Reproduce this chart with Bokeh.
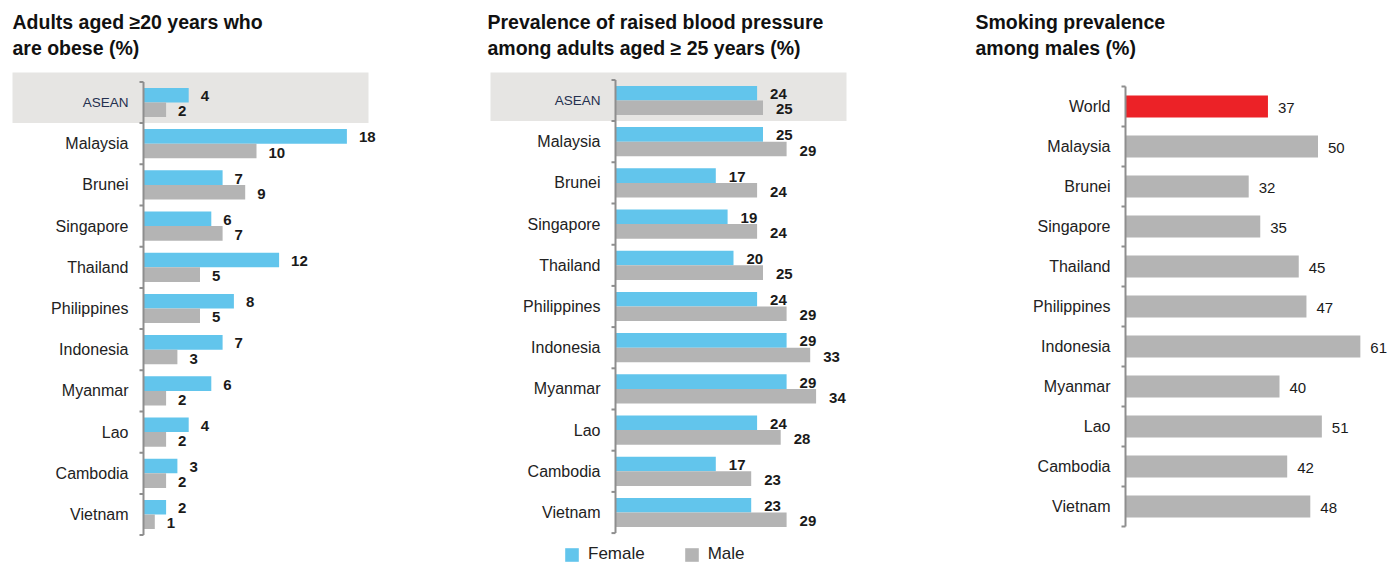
from bokeh.plotting import figure
from bokeh.layouts import row
from bokeh.models import Range1d, ColumnDataSource, Legend, LegendItem
from bokeh.core.properties import value
from bokeh.embed import file_html
from bokeh.resources import INLINE

# ---------------- data ----------------
countries = ["ASEAN", "Malaysia", "Brunei", "Singapore", "Thailand", "Philippines",
             "Indonesia", "Myanmar", "Lao", "Cambodia", "Vietnam"]
obese_female = [4, 18, 7, 6, 12, 8, 7, 6, 4, 3, 2]
obese_male = [2, 10, 9, 7, 5, 5, 3, 2, 2, 2, 1]
bp_female = [24, 25, 17, 19, 20, 24, 29, 29, 24, 17, 23]
bp_male = [25, 29, 24, 24, 25, 29, 33, 34, 28, 23, 29]
smoke_labels = ["World", "Malaysia", "Brunei", "Singapore", "Thailand", "Philippines",
                "Indonesia", "Myanmar", "Lao", "Cambodia", "Vietnam"]
smoke_male = [37, 50, 32, 35, 45, 47, 61, 40, 51, 42, 48]

titles = ["Adults aged \u226520 years who\nare obese (%)",
          "Prevalence of raised blood pressure\namong adults aged \u2265 25 years (%)",
          "Smoking prevalence\namong males (%)"]

# ---------------- style ----------------
H = 562
FONT = "Liberation Sans"
BLUE = "#62c5ec"
GREY = "#b4b4b4"
RED = "#ec2227"
BAND = "#e6e5e3"
AXIS = "#8e8e8e"
TXT = "#1a1a1a"


def make_panel(width, axis_px, ppu, row0_px, row_px):
    x0 = -axis_px / ppu
    x1 = x0 + width / ppu
    y_top = -row0_px / row_px
    y_bot = (H - row0_px) / row_px
    p = figure(width=width, height=H, x_range=Range1d(x0, x1),
               y_range=Range1d(y_bot, y_top), output_backend="svg",
               toolbar_location=None, x_axis_location=None, y_axis_location=None,
               min_border=0, outline_line_color=None)
    p.grid.visible = False
    p.background_fill_color = "white"
    p.border_fill_color = "white"

    def px2x(px):
        return x0 + px / ppu

    def px2y(py):
        return (py - row0_px) / row_px

    return p, px2x, px2y, ppu


def draw_axis(p, ppu, n):
    tick = 4.0 / ppu
    p.segment(x0=[0], y0=[-0.5], x1=[0], y1=[n - 0.5], line_color=AXIS, line_width=2)
    ys = [i - 0.5 for i in range(n + 1)]
    p.segment(x0=[0] * len(ys), y0=ys, x1=[-tick] * len(ys), y1=ys,
              line_color=AXIS, line_width=2)


def add_title(p, px2x, px2y, text, left_px):
    p.text(x=[px2x(left_px)], y=[px2y(10)], text=[text], text_font=value(FONT),
           text_font_size="19.5px", text_font_style="bold", text_color="#111111",
           text_baseline="top", text_align="left", text_line_height=1.2)


def add_cats(p, labels, first_special=False):
    n = len(labels)
    ys = list(range(n))
    if first_special:
        p.text(x=[0], y=[0], text=[labels[0]], x_offset=-15, text_font=value(FONT),
               text_font_size="13.5px", text_color="#24304f", text_align="right",
               text_baseline="middle")
        p.text(x=[0] * (n - 1), y=ys[1:], text=labels[1:], x_offset=-15,
               text_font=value(FONT), text_font_size="16px", text_color="#222222",
               text_align="right", text_baseline="middle")
    else:
        p.text(x=[0] * n, y=ys, text=labels, x_offset=-15,
               text_font=value(FONT), text_font_size="16px", text_color="#222222",
               text_align="right", text_baseline="middle")


def paired_panel(width, axis_px, ppu, row0_px, row_px, female, male, title,
                 band_px, gap):
    p, px2x, px2y, ppu = make_panel(width, axis_px, ppu, row0_px, row_px)
    n = len(countries)
    # highlight band for ASEAN
    p.quad(left=[px2x(band_px[0])], right=[px2x(band_px[1])], top=[px2y(72)],
           bottom=[0.5], fill_color=BAND, line_color=None)
    bh = 14.6 / row_px
    yf = [i - bh / 2 for i in range(n)]
    ym = [i + bh / 2 for i in range(n)]
    src = ColumnDataSource(dict(yf=yf, ym=ym, f=female, m=male,
                                fl=[str(v) for v in female], ml=[str(v) for v in male]))
    rf = p.hbar(y="yf", left=0, right="f", height=bh, source=src,
                fill_color=BLUE, line_color=None)
    rm = p.hbar(y="ym", left=0, right="m", height=bh, source=src,
                fill_color=GREY, line_color=None)
    p.text(x="f", y="yf", text="fl", source=src, x_offset=gap, y_offset=1,
           text_font=value(FONT),
           text_font_size="15px", text_font_style="bold", text_color=TXT,
           text_baseline="middle", text_align="left")
    p.text(x="m", y="ym", text="ml", source=src, x_offset=gap, y_offset=1.5,
           text_font=value(FONT),
           text_font_size="15px", text_font_style="bold", text_color=TXT,
           text_baseline="middle", text_align="left")
    draw_axis(p, ppu, n)
    add_cats(p, countries, first_special=True)
    add_title(p, px2x, px2y, title, 12 if band_px[0] < 20 else 13)
    return p, rf, rm


# Panel 1 : obesity (image x 0..475)
p1, _, _ = paired_panel(475, 143, 11.3, 102, 41.2, obese_female, obese_male,
                        titles[0], (12, 368), 12)

# Panel 2 : blood pressure (image x 475..955)
p2, rf2, rm2 = paired_panel(480, 140, 5.9, 100, 41.2, bp_female, bp_male,
                            titles[1], (15, 371), 13)
legend = Legend(items=[LegendItem(label="Female", renderers=[rf2]),
                       LegendItem(label="Male", renderers=[rm2])],
                orientation="horizontal", location=(88, -2),
                glyph_width=17, glyph_height=17, label_standoff=8, spacing=38,
                padding=0, margin=0, border_line_color=None,
                background_fill_alpha=0, label_text_font=FONT,
                label_text_font_size="17px", label_text_color="#222222",
                label_height=17)
p2.add_layout(legend)

# Panel 3 : smoking (image x 955..1389)
p3, px2x3, px2y3, ppu3 = make_panel(434, 170, 3.85, 106, 40.0)
n3 = len(smoke_labels)
src3 = ColumnDataSource(dict(y=list(range(n3)), v=smoke_male,
                             lab=[str(v) for v in smoke_male],
                             c=[RED] + [GREY] * (n3 - 1)))
p3.hbar(y="y", left=0, right="v", height=22.0 / 40.0, source=src3,
        fill_color="c", line_color=None)
p3.text(x="v", y="y", text="lab", source=src3, x_offset=10, y_offset=1,
        text_font=value(FONT),
        text_font_size="15px", text_color=TXT, text_baseline="middle",
        text_align="left")
draw_axis(p3, ppu3, n3)
add_cats(p3, smoke_labels)
add_title(p3, px2x3, px2y3, titles[2], 20)

layout = row(p1, p2, p3, spacing=0)
open("out.html", "w").write(file_html(layout, INLINE))
